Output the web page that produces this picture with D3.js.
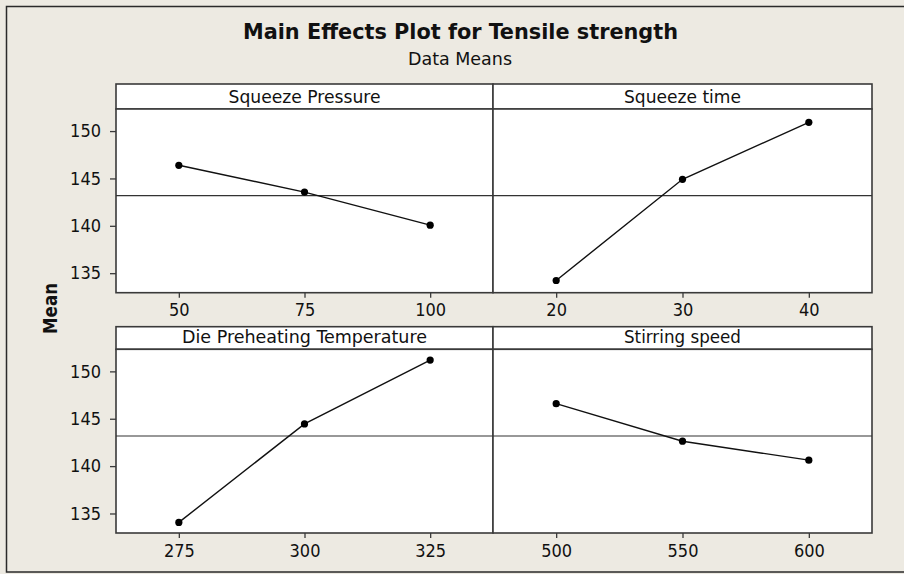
<!DOCTYPE html>
<html>
<head>
<meta charset="utf-8">
<script src="https://cdn.jsdelivr.net/npm/d3@7/dist/d3.min.js"></script>
<style>
  html, body { margin: 0; padding: 0; background: #EDEAE2; }
  svg { display: block; }
  text { font-family: "DejaVu Sans Condensed", "DejaVu Sans", Verdana, sans-serif; fill: #111; }
</style>
</head>
<body>
<svg id="chart" width="904" height="574"></svg>
<script>
// ---- data ----
const chartTitle = "Main Effects Plot for Tensile strength";
const chartSubtitle = "Data Means";
const yAxisLabel = "Mean";
const factors = ["Squeeze Pressure", "Squeeze time", "Die Preheating Temperature", "Stirring speed"];
const levelsSqueezePressure = ["50", "75", "100"];
const levelsSqueezeTime = ["20", "30", "40"];
const levelsDieTemp = ["275", "300", "325"];
const levelsStirring = ["500", "550", "600"];
const meansSqueezePressure = [146.39, 143.56, 140.07];
const meansSqueezeTime = [134.23, 144.91, 150.92];
const meansDieTemp = [134.06, 144.45, 151.19];
const meansStirring = [146.59, 142.63, 140.63];
const grandMean = 143.18;
const yTicks = [135, 140, 145, 150];
const yDomain = [132.94, 152.33];

const panels = [
  { name: factors[0], levels: levelsSqueezePressure, means: meansSqueezePressure, col: 0, row: 0 },
  { name: factors[1], levels: levelsSqueezeTime, means: meansSqueezeTime, col: 1, row: 0 },
  { name: factors[2], levels: levelsDieTemp, means: meansDieTemp, col: 0, row: 1 },
  { name: factors[3], levels: levelsStirring, means: meansStirring, col: 1, row: 1 }
];

// ---- layout ----
const svg = d3.select("#chart");
const colX = [[116, 493], [493, 872]];
const rowY = [ { strip: 84, top: 109, bottom: 292.7 }, { strip: 326.7, top: 349.3, bottom: 533 } ];
const frameColor = "#3a3a3a";
const stripWidths = { "Squeeze Pressure": 152, "Squeeze time": 117, "Die Preheating Temperature": 245, "Stirring speed": 117 };

// outer frame
svg.append("rect").attr("x", 6.5).attr("y", 6.5).attr("width", 920).attr("height", 565.5)
  .attr("fill", "#EDEAE2").attr("stroke", "#2a2a2a").attr("stroke-width", 1.5);

// title
svg.append("text").attr("x", 460.5).attr("y", 38.5).attr("text-anchor", "middle")
  .attr("font-size", 21.5).attr("font-weight", "bold")
  .attr("textLength", 435).attr("lengthAdjust", "spacingAndGlyphs")
  .text(chartTitle);
svg.append("text").attr("x", 460).attr("y", 65).attr("text-anchor", "middle")
  .attr("font-size", 17)
  .attr("textLength", 104).attr("lengthAdjust", "spacingAndGlyphs")
  .text(chartSubtitle);

// y axis label
svg.append("text").attr("transform", "translate(56.5,308.5) rotate(-90)")
  .attr("text-anchor", "middle").attr("font-size", 19.5).attr("font-weight", "bold")
  .attr("textLength", 51).attr("lengthAdjust", "spacingAndGlyphs")
  .text(yAxisLabel);

panels.forEach(p => {
  const [x0, x1] = colX[p.col];
  const r = rowY[p.row];
  const x = d3.scalePoint().domain(p.levels).range([x0, x1]).padding(0.5);
  const y = d3.scaleLinear().domain(yDomain).range([r.bottom, r.top]);
  const g = svg.append("g");

  // strip
  g.append("rect").attr("x", x0).attr("y", r.strip).attr("width", x1 - x0).attr("height", r.top - r.strip)
    .attr("fill", "#fff").attr("stroke", frameColor).attr("stroke-width", 1.6);
  g.append("text").attr("x", (x0 + x1) / 2).attr("y", r.top - 6.5).attr("text-anchor", "middle")
    .attr("font-size", 17)
    .attr("textLength", stripWidths[p.name]).attr("lengthAdjust", "spacingAndGlyphs")
    .text(p.name);

  // plot area
  g.append("rect").attr("x", x0).attr("y", r.top).attr("width", x1 - x0).attr("height", r.bottom - r.top)
    .attr("fill", "#fff").attr("stroke", frameColor).attr("stroke-width", 1.6);

  // reference line at grand mean
  g.append("line").attr("x1", x0).attr("x2", x1).attr("y1", y(grandMean)).attr("y2", y(grandMean))
    .attr("stroke", "#333").attr("stroke-width", 1.2);

  // x axis
  const xa = g.append("g").attr("transform", `translate(0,${r.bottom})`)
    .call(d3.axisBottom(x).tickSize(5).tickPadding(6));
  xa.select(".domain").remove();
  xa.selectAll("line").attr("stroke", frameColor).attr("stroke-width", 1.3);
  xa.selectAll("text").attr("font-size", 18).attr("fill", "#111")
    .attr("font-family", '"DejaVu Sans Condensed", "DejaVu Sans", sans-serif');

  // y axis on left column only
  if (p.col === 0) {
    const ya = g.append("g").attr("transform", `translate(${x0},0)`)
      .call(d3.axisLeft(y).tickValues(yTicks).tickSize(6).tickPadding(9));
    ya.select(".domain").remove();
    ya.selectAll("line").attr("stroke", frameColor).attr("stroke-width", 1.3);
    ya.selectAll("text").attr("font-size", 18).attr("fill", "#111")
      .attr("font-family", '"DejaVu Sans Condensed", "DejaVu Sans", sans-serif');
  }

  // main effects line
  const pts = p.levels.map((l, i) => [x(l), y(p.means[i])]);
  g.append("path").attr("d", d3.line()(pts)).attr("fill", "none")
    .attr("stroke", "#111").attr("stroke-width", 1.4);
  g.selectAll("circle.pt").data(pts).join("circle").attr("class", "pt")
    .attr("cx", d => d[0]).attr("cy", d => d[1]).attr("r", 3.6).attr("fill", "#000");
});
</script>
</body>
</html>
